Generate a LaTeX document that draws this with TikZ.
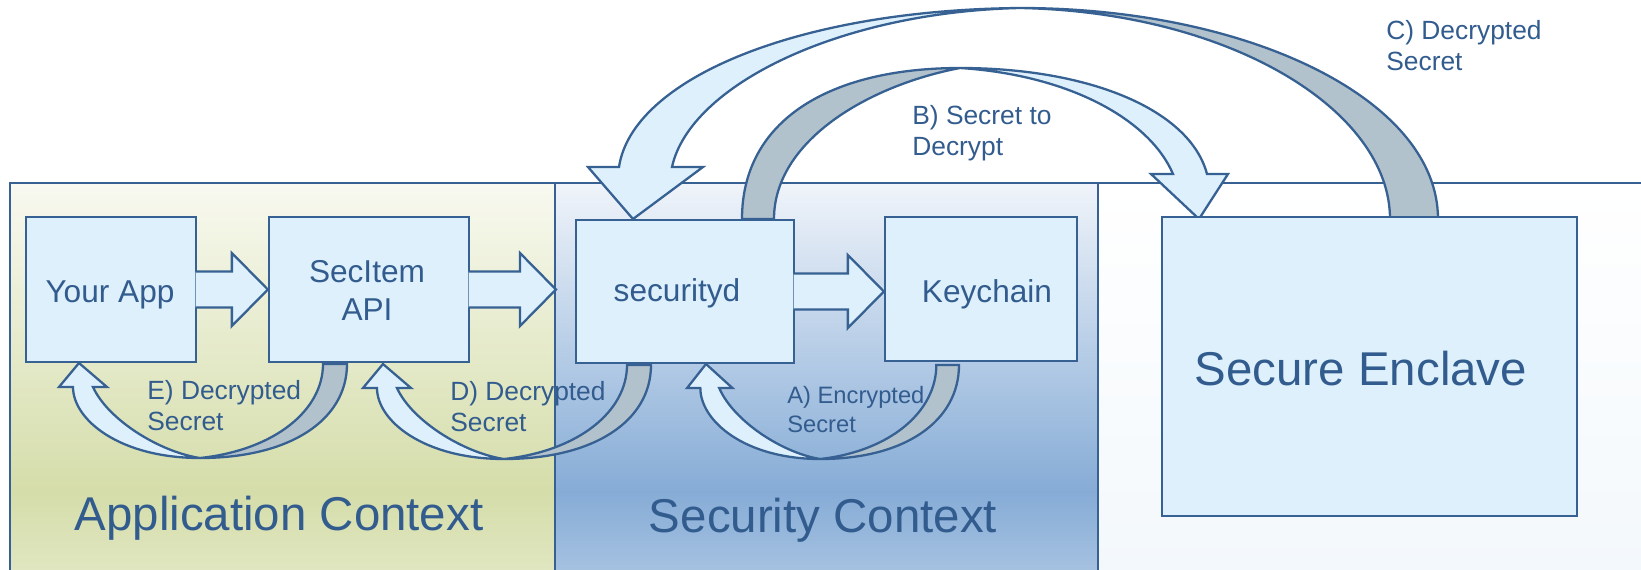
\documentclass[tikz,border=0pt]{standalone}
\usepackage{fontspec}
\setmainfont{Liberation Sans}
\usetikzlibrary{calc,fit}

\definecolor{edgeblue}{RGB}{54,97,146}
\definecolor{txtblue}{RGB}{50,92,142}
\definecolor{boxfill}{RGB}{222,240,252}
\definecolor{tailgrey}{RGB}{178,194,204}
\definecolor{apptop}{RGB}{248,249,240}
\definecolor{appmid}{RGB}{213,221,170}
\definecolor{sectop}{RGB}{240,244,250}
\definecolor{secmid}{RGB}{134,172,214}
\definecolor{encbot}{RGB}{236,244,250}

\tikzset{
  box/.style={draw=edgeblue, line width=1.3pt, fill=boxfill, inner sep=0pt},
  boxtext/.style={text=txtblue, font=\fontsize{18}{21.5}\selectfont, align=center, inner sep=0pt, anchor=base},
  panel/.style={draw=edgeblue, line width=1.1pt, inner sep=0pt},
  lift/.style={draw=edgeblue, line width=1.3pt, fill=boxfill},
  tail/.style={draw=edgeblue, line width=1.3pt, fill=tailgrey},
  note/.style={text=txtblue, font=\fontsize{15}{17.6}\selectfont, align=left, inner sep=0pt, anchor=base west},
  ctx/.style={text=txtblue, font=\fontsize{27}{30}\selectfont, inner sep=0pt, anchor=base},
}

% straight block arrow, from a box side to the x of a target
\newcommand{\blockarr}[2]{%
  \coordinate (ba-s) at (#1);
  \coordinate (ba-t) at (#2 |- ba-s);
  \draw[lift] ($(ba-s)+(-1.5,-18)$) -- ($(ba-t)+(-36,-18)$) -- ($(ba-t)+(-36,-36.5)$)
    -- (ba-t) -- ($(ba-t)+(-36,36.5)$) -- ($(ba-t)+(-36,18)$) -- ($(ba-s)+(-1.5,18)$);
}

% curved return arrow under the boxes, tip at #1
\newcommand{\turnback}[2]{%
  \begin{scope}[shift={#1}, xscale=#2]
    \draw[tail] (268,1) .. controls (268,57) and (211,95) .. (121,95)
      .. controls (196,87) and (244,47) .. (244,1) -- cycle;
    \draw[lift] (121,95) .. controls (41,95) and (-6,57) .. (-6,24) -- (-20,24) -- (0,0)
      -- (28,24) -- (14,24) .. controls (29,57) and (81,89) .. (121,95) -- cycle;
  \end{scope}}

\begin{document}
\begin{tikzpicture}[x=0.02cm, y=-0.02cm]
  \useasboundingbox (0,0) rectangle (1641,569);
  \clip (0,0) rectangle (1641,569);
  \fill[white] (0,0) rectangle (1641,569);

  % contexts
  \node[panel, fit={(10,183) (555,800)}, top color=apptop, bottom color=white, middle color=appmid] (appctx) {};
  \node[panel, fit={(555,183) (1098,800)}, top color=sectop, bottom color=white, middle color=secmid] (secctx) {};
  \node[panel, fit={(1098,183) (1700,800)}, top color=white, bottom color=encbot] (encctx) {};

  % arrows over the top
  \draw[tail] (1020,8) .. controls (1250,8) and (1438,100) .. (1438,219) -- (1390,219)
    .. controls (1390,110) and (1230,12) .. (1020,8) -- cycle;
  \draw[lift] (619,167) .. controls (632,80) and (795,10) .. (1020,8)
    .. controls (840,12) and (690,85) .. (672,167) -- (703,167) -- (633,219) -- (588,167) -- cycle;
  \draw[tail] (742,219) .. controls (742,120) and (830,68) .. (960,68)
    .. controls (870,85) and (774,140) .. (774,219) -- cycle;
  \draw[lift] (960,68) .. controls (1090,68) and (1190,110) .. (1207,174) -- (1228,174) -- (1199,219)
    -- (1151,174) -- (1173,174) .. controls (1150,120) and (1070,75) .. (960,68) -- cycle;

  % boxes
  \node[box, fit={(26,217) (196,362)}] (app) {};
  \node[box, fit={(269,217) (469,362)}] (api) {};
  \node[box, fit={(576,220) (794,363)}] (sd) {};
  \node[box, fit={(885,217) (1077,361)}] (kc) {};
  \node[box, fit={(1162,217) (1577,516)}] (se) {};
  \node[boxtext] (app-t) at (110,302) {Your App};
  \node[boxtext] (api-t) at (367,320) {SecItem\\API};
  \node[boxtext] (sd-t) at (677,301) {securityd};
  \node[boxtext] (kc-t) at (987,302) {Keychain};
  \node[boxtext, font=\fontsize{27}{30}\selectfont] (se-t) at (1361,385) {Secure Enclave};

  \blockarr{app.east}{api.west}
  \blockarr{api.east}{appctx.east}
  \blockarr{sd.east}{kc.west}

  \turnback{(79,363)}{1}
  \turnback{(383,364)}{1}
  \turnback{(706,364)}{0.944}

  % labels
  \node[note] (lblE) at (147,430) {E) Decrypted\\Secret};
  \node[note] (lblD) at (450,431) {D) Decrypted\\Secret};
  \node[note, font=\fontsize{13.5}{16}\selectfont] (lblA) at (787,432) {A) Encrypted\\Secret};
  \node[note] (lblB) at (912,155) {B) Secret to\\Decrypt};
  \node[note] (lblC) at (1386,70) {C) Decrypted\\Secret};
  \node[ctx] (lblapp) at (279,530) {Application Context};
  \node[ctx] (lblsec) at (823,532) {Security Context};
\end{tikzpicture}
\end{document}
